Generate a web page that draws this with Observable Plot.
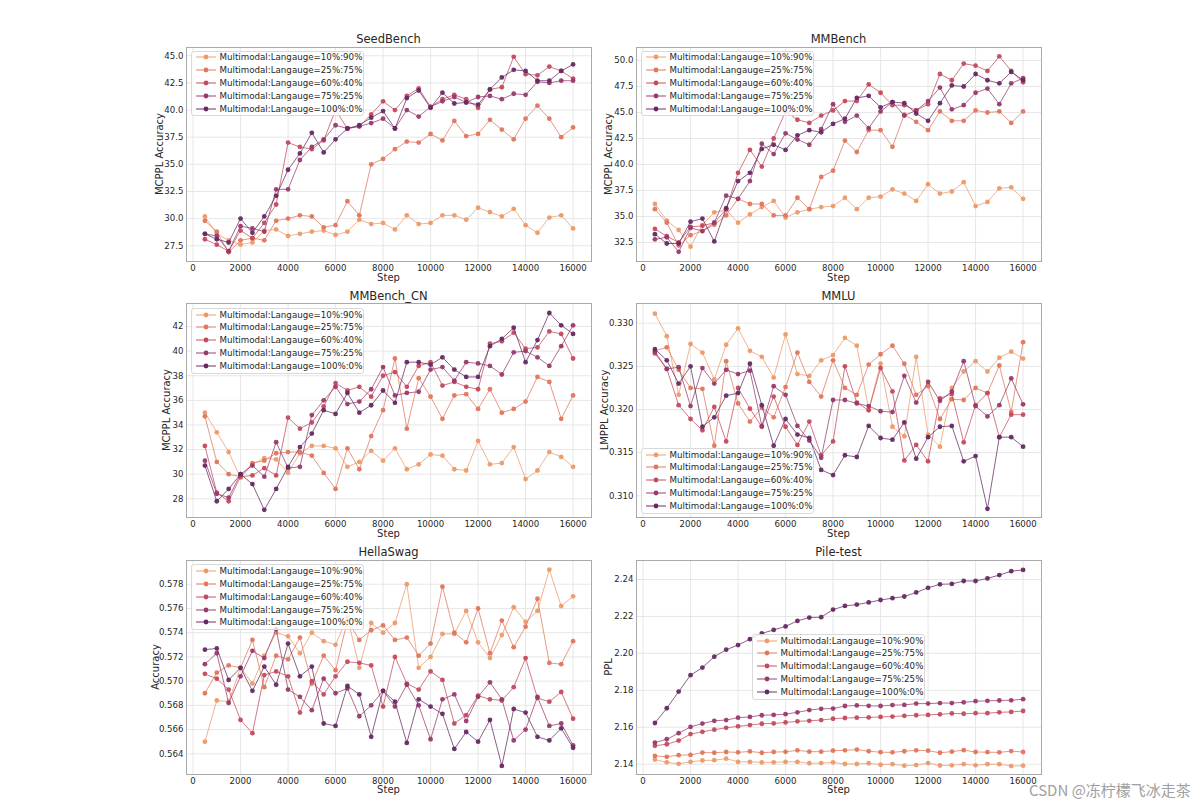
<!DOCTYPE html>
<html><head><meta charset="utf-8">
<script src="https://cdn.jsdelivr.net/npm/d3@7"></script>
<script src="https://cdn.jsdelivr.net/npm/@observablehq/plot@0.6"></script>
<style>
body{margin:0;background:#fff;}
#root{position:relative;width:1191px;height:810px;overflow:hidden;font-family:"DejaVu Sans",sans-serif;color:#262626;background:#fff;}
.abs{position:absolute;white-space:nowrap;line-height:1;}
.title{font-size:11.5px;transform:translate(-50%,-50%);}
.xlab{font-size:10px;transform:translate(-50%,-50%);}
.ylab{font-size:10px;transform:translate(-50%,-50%) rotate(-90deg);}
.legend{position:absolute;background:rgba(255,255,255,0.8);border:1px solid #d9d9d9;border-radius:3px;box-sizing:border-box;}
.legrow{position:absolute;left:0;height:10px;font-size:8.7px;}
.legrow svg{position:absolute;left:3px;top:0;}
.legrow span{position:absolute;left:28px;top:0;line-height:10px;white-space:nowrap;}
.wm{position:absolute;left:1029px;top:782px;line-height:16px;height:16px;font-family:"Noto Sans CJK SC","DejaVu Sans",sans-serif;font-size:15px;color:#a0a0a0;white-space:nowrap;}
</style></head>
<body><div id="root"></div>
<script>
const steps = [500,1000,1500,2000,2500,3000,3500,4000,4500,5000,5500,6000,6500,7000,7500,8000,8500,9000,9500,10000,10500,11000,11500,12000,12500,13000,13500,14000,14500,15000,15500,16000];
const seriesNames = ["Multimodal:Langauge=10%:90%","Multimodal:Langauge=25%:75%","Multimodal:Langauge=60%:40%","Multimodal:Langauge=75%:25%","Multimodal:Langauge=100%:0%"];
const colors = ["#ec9a69","#e0765c","#c44a5d","#993a6c","#652a63"];
const xTicks = [0,2000,4000,6000,8000,10000,12000,14000,16000];

// SeedBench
const seed10 = [30.2,28.6,28.0,27.6,27.8,28.9,29.0,28.4,28.6,28.8,28.9,28.5,28.8,29.9,29.5,29.6,29.0,30.3,29.5,29.6,30.3,30.3,29.9,31.0,30.6,30.2,30.9,29.4,28.7,30.1,30.3,29.1];
const seed25 = [29.8,28.8,26.9,28.0,28.2,28.0,29.8,30.0,30.3,30.2,29.2,29.4,31.6,30.3,35.0,35.5,36.4,37.1,37.0,37.8,37.2,39.0,37.6,37.8,39.1,38.2,37.3,39.2,40.4,39.2,37.5,38.4];
const seed60 = [28.1,27.6,27.0,28.9,28.2,29.6,31.3,37.0,36.6,36.4,37.2,40.0,38.3,38.5,39.6,40.8,40.0,41.3,42.0,40.3,41.0,41.4,41.0,40.2,41.9,42.1,44.9,43.3,43.2,44.0,43.6,42.9];
const seed75 = [28.6,28.4,27.0,29.3,29.1,28.8,32.7,32.7,35.4,36.6,37.3,38.6,38.3,38.5,38.8,39.2,38.3,40.0,39.4,40.3,40.8,41.2,40.7,41.2,41.3,41.0,41.5,41.4,42.6,42.5,42.7,42.7];
const seed100 = [28.6,28.1,27.8,30.0,28.7,30.2,32.1,34.5,36.0,37.9,36.1,37.3,38.3,38.6,39.3,39.9,38.3,41.1,41.8,40.2,41.6,40.6,40.7,40.5,41.9,43.0,43.7,43.6,42.7,42.7,43.6,44.2];
const seedTicks = [27.5,30.0,32.5,35.0,37.5,40.0,42.5,45.0];

// MMBench
const mmb10 = [36.2,34.6,33.7,32.1,34.2,35.4,35.6,34.4,35.2,35.9,36.5,34.9,35.4,35.7,35.9,36.0,36.8,35.7,36.8,36.9,37.6,37.2,36.5,38.1,37.2,37.4,38.3,36.0,36.4,37.7,37.8,36.7];
const mmb25 = [35.7,34.4,32.2,33.2,33.6,34.2,35.1,36.7,36.2,36.2,35.1,35.1,36.8,35.7,38.8,39.4,42.3,41.2,43.3,43.3,41.7,44.8,44.1,43.3,45.1,44.2,44.2,45.2,45.0,45.1,44.0,45.1];
const mmb60 = [33.8,33.1,32.5,34.0,34.1,34.4,35.7,39.2,41.4,39.8,42.5,45.1,44.3,44.0,44.7,45.2,46.1,46.1,47.7,46.9,45.7,45.7,45.2,45.8,48.7,48.1,49.7,49.5,49.0,50.4,49.0,47.9];
const mmb75 = [32.8,33.0,31.6,33.9,33.6,34.4,37.0,36.7,38.4,42.0,41.0,43.0,42.4,41.9,43.4,45.8,44.1,44.7,43.5,45.1,46.0,44.7,45.2,46.1,47.4,45.3,45.7,46.9,47.3,45.8,47.8,48.3];
const mmb100 = [33.3,32.4,32.4,34.5,34.8,32.6,35.8,38.4,39.2,41.5,41.9,41.4,42.8,43.3,43.1,43.9,44.4,46.4,46.6,45.5,46.0,45.9,44.9,44.2,45.9,47.6,47.5,48.7,48.1,47.8,48.9,48.1];
const mmbTicks = [32.5,35.0,37.5,40.0,42.5,45.0,47.5,50.0];

// MMBench_CN
const cn10 = [35.0,33.4,31.8,29.7,30.8,31.3,31.2,30.1,31.7,32.3,32.3,32.1,30.6,31.0,31.9,31.1,32.1,30.4,30.8,31.6,31.5,30.4,30.3,32.7,30.8,30.9,32.2,29.6,30.3,31.8,31.4,30.6];
const cn25 = [34.7,31.0,30.0,29.8,30.9,31.1,31.7,31.8,31.8,31.5,30.1,28.8,32.1,30.4,33.1,35.2,39.4,33.7,37.8,36.3,34.5,36.4,36.5,35.3,36.9,35.0,35.3,35.9,37.9,37.5,34.5,36.4];
const cn60 = [32.3,28.5,27.8,29.8,29.9,30.5,29.9,34.6,33.7,34.2,35.5,37.4,36.8,37.1,36.3,38.0,38.3,37.1,38.8,39.1,37.2,37.5,37.1,36.9,40.6,40.8,41.5,40.2,40.3,41.6,41.4,39.4];
const cn75 = [31.1,28.4,28.1,30.0,30.7,29.8,32.6,30.5,30.6,34.8,36.0,37.1,35.7,35.9,36.9,38.7,36.4,36.6,36.7,38.5,38.7,37.6,39.1,39.0,38.8,38.1,39.9,40.0,39.5,38.8,40.4,42.1];
const cn100 = [30.7,27.8,28.8,30.0,29.2,27.1,28.8,30.6,32.2,33.3,35.2,34.9,36.6,35.0,35.6,36.8,35.8,39.1,39.1,38.9,39.5,38.5,37.9,37.9,40.4,41.0,41.9,39.1,40.9,43.1,42.1,41.4];
const cnTicks = [28,30,32,34,36,38,40,42];

// MMLU
const mmlu10 = [0.3311,0.3285,0.3217,0.3276,0.3266,0.3235,0.3275,0.3294,0.3268,0.3261,0.3237,0.3287,0.3241,0.3239,0.3257,0.3263,0.3283,0.3274,0.3200,0.3253,0.3180,0.3169,0.3261,0.3171,0.3157,0.3225,0.3244,0.3256,0.3244,0.3260,0.3267,0.3259];
const mmlu25 = [0.3268,0.3272,0.3246,0.3225,0.3224,0.3158,0.3256,0.3207,0.3186,0.3202,0.3191,0.3226,0.3266,0.3232,0.3215,0.3257,0.3225,0.3217,0.3252,0.3264,0.3274,0.3253,0.3217,0.3227,0.3189,0.3212,0.3211,0.3225,0.3219,0.3251,0.3197,0.3278];
const mmlu60 = [0.3265,0.3247,0.3205,0.3189,0.3176,0.3203,0.3163,0.3225,0.3201,0.3180,0.3215,0.3180,0.3159,0.3186,0.3147,0.3163,0.3250,0.3208,0.3199,0.3248,0.3221,0.3141,0.3159,0.3140,0.3213,0.3218,0.3162,0.3205,0.3219,0.3168,0.3194,0.3194];
const mmlu75 = [0.3267,0.3247,0.3249,0.3204,0.3248,0.3230,0.3246,0.3241,0.3245,0.3181,0.3227,0.3217,0.3181,0.3164,0.3144,0.3211,0.3211,0.3207,0.3204,0.3198,0.3197,0.3239,0.3208,0.3232,0.3210,0.3221,0.3256,0.3204,0.3192,0.3205,0.3236,0.3206];
const mmlu100 = [0.3270,0.3257,0.3230,0.3250,0.3180,0.3191,0.3216,0.3219,0.3253,0.3205,0.3158,0.3189,0.3171,0.3167,0.3130,0.3124,0.3147,0.3145,0.3181,0.3167,0.3165,0.3185,0.3143,0.3168,0.3180,0.3181,0.3140,0.3146,0.3085,0.3168,0.3168,0.3157];
const mmluTicks = [0.310,0.315,0.320,0.325,0.330];

// HellaSwag
const hs10 = [0.5650,0.5684,0.5683,0.5711,0.5698,0.5721,0.5740,0.5737,0.5723,0.5740,0.5733,0.5730,0.5753,0.5711,0.5748,0.5740,0.5748,0.5780,0.5711,0.5720,0.5739,0.5739,0.5758,0.5732,0.5719,0.5738,0.5761,0.5749,0.5758,0.5792,0.5762,0.5770];
const hs25 = [0.5690,0.5707,0.5713,0.5711,0.5734,0.5695,0.5721,0.5718,0.5736,0.5698,0.5721,0.5709,0.5750,0.5734,0.5742,0.5746,0.5734,0.5736,0.5721,0.5731,0.5778,0.5740,0.5732,0.5760,0.5723,0.5750,0.5728,0.5745,0.5768,0.5715,0.5714,0.5733];
const hs60 = [0.5706,0.5702,0.5693,0.5668,0.5657,0.5705,0.5708,0.5704,0.5674,0.5700,0.5689,0.5704,0.5716,0.5715,0.5713,0.5679,0.5720,0.5698,0.5693,0.5708,0.5701,0.5665,0.5672,0.5688,0.5685,0.5684,0.5695,0.5719,0.5686,0.5683,0.5691,0.5669];
const hs75 = [0.5714,0.5723,0.5682,0.5704,0.5725,0.5719,0.5743,0.5693,0.5687,0.5676,0.5702,0.5690,0.5694,0.5671,0.5680,0.5692,0.5679,0.5697,0.5680,0.5652,0.5685,0.5689,0.5667,0.5687,0.5699,0.5685,0.5651,0.5660,0.5687,0.5663,0.5665,0.5647];
const hs100 = [0.5726,0.5727,0.5701,0.5711,0.5692,0.5712,0.5697,0.5731,0.5704,0.5712,0.5665,0.5663,0.5696,0.5689,0.5654,0.5692,0.5683,0.5649,0.5685,0.5679,0.5673,0.5644,0.5658,0.5650,0.5668,0.5630,0.5677,0.5674,0.5654,0.5651,0.5661,0.5645];
const hsTicks = [0.564,0.566,0.568,0.570,0.572,0.574,0.576,0.578];

// Pile-test
const pile10 = [2.1425,2.1410,2.1402,2.1413,2.1420,2.1422,2.1430,2.1413,2.1413,2.1410,2.1410,2.1413,2.1413,2.1405,2.1406,2.1410,2.1401,2.1401,2.1405,2.1397,2.1400,2.1392,2.1395,2.1406,2.1393,2.1394,2.1400,2.1394,2.1400,2.1400,2.1390,2.1392];
const pile25 = [2.1445,2.1440,2.1449,2.1450,2.1463,2.1462,2.1466,2.1464,2.1469,2.1462,2.1466,2.1467,2.1475,2.1468,2.1468,2.1473,2.1475,2.1479,2.1470,2.1465,2.1464,2.1470,2.1475,2.1473,2.1462,2.1468,2.1476,2.1466,2.1465,2.1464,2.1471,2.1466];
const pile60 = [2.1500,2.1508,2.1528,2.1563,2.1575,2.1587,2.1597,2.1605,2.1612,2.1619,2.1621,2.1626,2.1632,2.1635,2.1639,2.1646,2.1650,2.1652,2.1653,2.1656,2.1658,2.1662,2.1665,2.1667,2.1670,2.1675,2.1673,2.1676,2.1676,2.1681,2.1683,2.1688];
const pile75 = [2.1517,2.1535,2.1568,2.1602,2.1620,2.1635,2.1639,2.1652,2.1656,2.1665,2.1667,2.1671,2.1681,2.1693,2.1700,2.1701,2.1715,2.1718,2.1716,2.1715,2.1720,2.1721,2.1728,2.1728,2.1731,2.1731,2.1735,2.1741,2.1743,2.1745,2.1746,2.1752];
const pile100 = [2.1623,2.1703,2.1793,2.1882,2.1923,2.1982,2.2020,2.2045,2.2077,2.2108,2.2127,2.2146,2.2176,2.2194,2.2196,2.2237,2.2257,2.2264,2.2276,2.2289,2.2299,2.2308,2.2330,2.2355,2.2374,2.2376,2.2392,2.2392,2.2406,2.2424,2.2445,2.2452];
const pileTicks = [2.14,2.16,2.18,2.20,2.22,2.24];

const panels = [
  {title:"SeedBench", ylabel:"MCPPL Accuracy", series:[seed10,seed25,seed60,seed75,seed100], yDomain:[26.05,45.76], yTicks:seedTicks, yFmt:".1f",
   frame:[186,47,591,261], titleY:40, xlabY:277.5, ylabX:160, legend:[190.5,50.5,173.5,65.5]},
  {title:"MMBench", ylabel:"MCPPL Accuracy", series:[mmb10,mmb25,mmb60,mmb75,mmb100], yDomain:[30.67,51.25], yTicks:mmbTicks, yFmt:".1f",
   frame:[636,47,1041,261], titleY:40, xlabY:277.5, ylabX:608.5, legend:[640.5,50.5,173,65.5]},
  {title:"MMBench_CN", ylabel:"MCPPL Accuracy", series:[cn10,cn25,cn60,cn75,cn100], yDomain:[26.48,43.87], yTicks:cnTicks, yFmt:"d",
   frame:[186,303,591,517], titleY:296.5, xlabY:533.5, ylabX:167, legend:[190.5,308,173.5,65.5]},
  {title:"MMLU", ylabel:"LMPPL Accuracy", series:[mmlu10,mmlu25,mmlu60,mmlu75,mmlu100], yDomain:[0.30749,0.33228], yTicks:mmluTicks, yFmt:".3f",
   frame:[636,303,1041,517], titleY:296.5, xlabY:533.5, ylabX:604.5, legend:[640.5,448,173,65.5]},
  {title:"HellaSwag", ylabel:"Accuracy", series:[hs10,hs25,hs60,hs75,hs100], yDomain:[0.56229,0.57996], yTicks:hsTicks, yFmt:".3f",
   frame:[186,560,591,774], titleY:553.3, xlabY:790, ylabX:156, legend:[190.5,564.4,173.5,65.5]},
  {title:"Pile-test", ylabel:"PPL", series:[pile10,pile25,pile60,pile75,pile100], yDomain:[2.13442,2.25029], yTicks:pileTicks, yFmt:".2f",
   frame:[636,560,1041,774], titleY:553, xlabY:790, ylabX:608.5, legend:[751.5,634,173.5,65.5]}
];

const root = document.getElementById("root");
const mL = 45, mR = 6, mT = 6, mB = 22;

function addText(cls, txt, x, y) {
  const d = document.createElement("div");
  d.className = "abs " + cls;
  d.textContent = txt;
  d.style.left = x + "px";
  d.style.top = y + "px";
  root.appendChild(d);
  return d;
}

for (const p of panels) {
  const [fl, ft, fr, fb] = p.frame;
  const W = fr - fl, H = fb - ft;
  const marks = [
    Plot.gridX(xTicks, {stroke: "#e4e4e4", strokeOpacity: 1, strokeWidth: 0.9}),
    Plot.gridY(p.yTicks, {stroke: "#e4e4e4", strokeOpacity: 1, strokeWidth: 0.9}),
    Plot.axisX(xTicks, {tickFormat: "d", tickSize: 0, tickPadding: 3, label: null, fontSize: 8.6}),
    Plot.axisY(p.yTicks, {tickFormat: p.yFmt, tickSize: 0, tickPadding: 3, label: null, fontSize: 8.6})
  ];
  p.series.forEach((vals, i) => {
    const rows = steps.map((s, j) => ({step: s, value: vals[j], series: seriesNames[i]}));
    marks.push(Plot.line(rows, {x: "step", y: "value", stroke: colors[i], strokeWidth: 1, strokeOpacity: 0.75}));
    marks.push(Plot.dot(rows, {x: "step", y: "value", r: 2.4, fill: colors[i], fillOpacity: 0.95, stroke: "none"}));
  });
  marks.push(Plot.frame({stroke: "#aaaaaa", strokeWidth: 1}));

  const svg = Plot.plot({
    width: W + mL + mR,
    height: H + mT + mB,
    marginLeft: mL, marginRight: mR, marginTop: mT, marginBottom: mB,
    x: {domain: [-275, 16775]},
    y: {domain: p.yDomain},
    style: {fontFamily: "DejaVu Sans", fontSize: "8.6px", color: "#262626", background: "transparent", overflow: "visible"},
    marks
  });
  svg.style.position = "absolute";
  svg.style.left = (fl - mL) + "px";
  svg.style.top = (ft - mT) + "px";
  root.appendChild(svg);

  addText("title", p.title, (fl + fr) / 2, p.titleY);
  addText("xlab", "Step", (fl + fr) / 2, p.xlabY);
  addText("ylab", p.ylabel, p.ylabX, (ft + fb) / 2);

  // legend
  const [lx, ly, lw, lh] = p.legend;
  const lg = document.createElement("div");
  lg.className = "legend";
  lg.style.left = lx + "px"; lg.style.top = ly + "px";
  lg.style.width = lw + "px"; lg.style.height = lh + "px";
  seriesNames.forEach((name, i) => {
    const row = document.createElement("div");
    row.className = "legrow";
    row.style.top = (6.6 + i * 12.85 - 5 - 1) + "px";
    row.style.width = (lw - 2) + "px";
    row.innerHTML = `<svg width="22" height="10"><line x1="1" y1="5" x2="21" y2="5" stroke="${colors[i]}" stroke-width="1.6" stroke-opacity="0.6"/><circle cx="11" cy="5" r="2.4" fill="${colors[i]}"/></svg><span>${name}</span>`;
    lg.appendChild(row);
  });
  root.appendChild(lg);
}

const wm = document.createElement("div");
wm.className = "wm";
wm.textContent = "CSDN @冻柠檬飞冰走茶";
root.appendChild(wm);
</script>
</body></html>
